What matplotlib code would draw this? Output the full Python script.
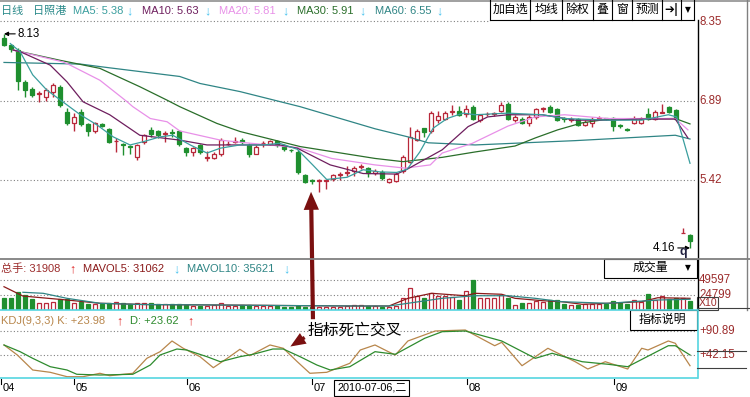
import numpy as np
import matplotlib
matplotlib.use("Agg")
import matplotlib.pyplot as plt
import matplotlib.transforms as mtransforms
from matplotlib.lines import Line2D
from matplotlib.patches import Rectangle, FancyArrowPatch

plt.rcParams['font.family'] = ['Liberation Sans', 'Noto Sans CJK SC', 'DejaVu Sans']

# ----------- Data ------------------------------------
opens = [8.06, 7.92, 7.83, 7.23, 7.11, 7.02, 6.96, 7.06, 7.14, 6.69,
         6.48, 6.69, 6.45, 6.32, 6.45, 6.36, 6.14, 6.08, 6.04, 5.85,
         6.12, 6.35, 6.32, 6.28, 6.31, 6.32, 6.01, 5.93, 6.06, 5.83,
         5.83, 5.91, 6.08, 6.13, 6.16, 6.07, 5.91, 6.10, 6.09, 6.15,
         6.07, 5.98, 5.94, 5.51, 5.42, 5.41, 5.41, 5.43, 5.51, 5.55,
         5.59, 5.66, 5.64, 5.55, 5.57, 5.39, 5.41, 5.58, 5.76, 6.16,
         6.38, 6.32, 6.53, 6.56, 6.68, 6.70, 6.65, 6.78, 6.53, 6.64,
         6.65, 6.70, 6.83, 6.53, 6.56, 6.48, 6.58, 6.74, 6.78, 6.73,
         6.57, 6.54, 6.55, 6.44, 6.48, 6.56, 6.56, 6.57, 6.43, 6.36,
         6.47, 6.48, 6.64, 6.56, 6.67, 6.78, 6.72, 4.43, 4.40]
highs = [8.13, 7.95, 7.87, 7.27, 7.14, 7.07, 7.13, 7.22, 7.18, 6.75,
         6.66, 6.74, 6.48, 6.50, 6.47, 6.38, 6.20, 6.10, 6.07, 6.08,
         6.28, 6.41, 6.35, 6.33, 6.37, 6.35, 6.03, 6.04, 6.08, 5.95,
         5.93, 6.19, 6.14, 6.22, 6.20, 6.10, 6.07, 6.14, 6.16, 6.16,
         6.08, 6.00, 5.97, 5.54, 5.44, 5.43, 5.43, 5.54, 5.56, 5.68,
         5.68, 5.71, 5.66, 5.62, 5.60, 5.45, 5.57, 5.88, 6.40, 6.36,
         6.38, 6.70, 6.70, 6.70, 6.81, 6.79, 6.82, 6.81, 6.64, 6.69,
         6.69, 6.87, 6.86, 6.62, 6.59, 6.62, 6.75, 6.78, 6.81, 6.75,
         6.59, 6.59, 6.57, 6.53, 6.59, 6.61, 6.57, 6.59, 6.45, 6.38,
         6.60, 6.59, 6.75, 6.71, 6.83, 6.80, 6.73, 4.53, 4.41]
lows = [7.90, 7.80, 7.09, 6.95, 6.96, 6.87, 6.88, 6.96, 6.78, 6.44,
        6.32, 6.42, 6.24, 6.30, 6.40, 6.10, 5.93, 5.88, 5.90, 5.80,
        6.09, 6.22, 6.19, 6.12, 6.22, 6.05, 5.86, 5.86, 5.91, 5.78,
        5.81, 5.87, 6.06, 6.10, 6.09, 5.85, 5.90, 6.04, 6.06, 6.04,
        5.95, 5.93, 5.53, 5.36, 5.35, 5.20, 5.25, 5.40, 5.42, 5.49,
        5.50, 5.62, 5.47, 5.52, 5.42, 5.36, 5.38, 5.55, 5.73, 6.14,
        6.22, 6.29, 6.48, 6.53, 6.63, 6.60, 6.58, 6.53, 6.49, 6.61,
        6.60, 6.69, 6.53, 6.49, 6.45, 6.42, 6.56, 6.69, 6.67, 6.52,
        6.49, 6.50, 6.43, 6.42, 6.41, 6.53, 6.53, 6.32, 6.38, 6.32,
        6.45, 6.46, 6.54, 6.54, 6.66, 6.67, 6.54, 4.43, 4.16]
closes = [7.92, 7.85, 7.26, 7.09, 7.00, 7.03, 7.09, 7.18, 6.81, 6.47,
          6.59, 6.45, 6.33, 6.47, 6.43, 6.13, 6.15, 6.07, 6.03, 6.07,
          6.25, 6.27, 6.26, 6.29, 6.30, 6.08, 5.93, 6.01, 5.93, 5.84,
          5.91, 6.16, 6.09, 6.14, 6.13, 5.91, 6.04, 6.11, 6.15, 6.07,
          5.99, 5.97, 5.56, 5.39, 5.41, 5.42, 5.42, 5.51, 5.52, 5.56,
          5.65, 5.67, 5.55, 5.59, 5.45, 5.43, 5.54, 5.84, 6.22, 6.33,
          6.31, 6.66, 6.61, 6.66, 6.69, 6.63, 6.73, 6.56, 6.62, 6.65,
          6.66, 6.81, 6.56, 6.59, 6.48, 6.59, 6.73, 6.75, 6.69, 6.53,
          6.56, 6.55, 6.44, 6.50, 6.56, 6.57, 6.55, 6.42, 6.42, 6.35,
          6.56, 6.56, 6.56, 6.69, 6.68, 6.69, 6.56, 4.44, 4.29]
volumes = [20300, 19300, 30250, 24800, 17700, 11000, 12100, 13700, 17700, 17700,
           11000, 12700, 9900, 9400, 9400, 11000, 13700, 11000, 9900, 11000,
           12100, 12100, 9900, 9400, 9400, 9900, 8300, 6600, 7200, 7200,
           8300, 11000, 6600, 7200, 8300, 8300, 6600, 6600, 6600, 6600,
           5500, 5500, 7200, 5500, 5500, 5500, 5500, 5500, 5500, 6600,
           8300, 8300, 7200, 7200, 5500, 5500, 7200, 19300, 35900, 23100,
           20300, 27600, 23700, 23700, 22000, 16500, 31400, 49600, 20300, 19300,
           19300, 24800, 20300, 8300, 11000, 11000, 14900, 13700, 16500, 16500,
           9400, 8300, 8300, 9400, 9400, 9400, 9400, 14900, 11000, 9400,
           16500, 13700, 25900, 16500, 23700, 18200, 19300, 19300, 14900]

# moving averages, sampled along the drawn lines (candle index, value)
ma5_idx = [0.9, 2.3, 4.1, 6.1, 8.4, 10.9, 13.3, 15.6, 18, 19.9, 22.3, 24.1, 26.6, 29,
           30.9, 33.7, 37, 39.4, 41.9, 44.1, 46.1, 49, 51.3, 53.7, 56.1, 57.6, 59.4,
           61.3, 63.3, 65.6, 67.3, 72, 76.9, 80.1, 86.3, 91.1, 94.9, 96.1, 98]
ma5_val = [7.95, 7.80, 7.37, 7.09, 6.87, 6.63, 6.44, 6.22, 6.07, 6.13, 6.22, 6.25, 6.07, 5.92,
           6.01, 6.07, 6.07, 6.10, 5.99, 5.70, 5.43, 5.47, 5.61, 5.57, 5.56, 5.62, 5.94,
           6.38, 6.56, 6.66, 6.63, 6.66, 6.63, 6.56, 6.53, 6.53, 6.63, 6.59, 5.73]
ma10_idx = [1.3, 2.3, 6.6, 9, 11.3, 15.1, 19.4, 25.1, 29, 33.7, 39.4, 41.9, 46.6, 51.3,
            56.1, 57.6, 62.6, 66.3, 69.1, 72, 76.9, 81.6, 86.3, 91.1, 95.9, 97.7]
ma10_val = [7.83, 7.80, 7.55, 7.24, 6.87, 6.63, 6.25, 6.16, 6.07, 6.07, 6.07, 6.01, 5.70, 5.54,
            5.53, 5.62, 5.98, 6.41, 6.59, 6.63, 6.63, 6.53, 6.53, 6.55, 6.55, 6.20]
ma20_idx = [1.3, 8.4, 9, 13.7, 17.6, 18.4, 20.9, 23.3, 25.1, 30.9, 33.7, 42, 46.8, 53,
            57.3, 60.9, 62.6, 66.9, 72, 75.9, 80.1, 86.3, 95.9, 97.7]
ma20_val = [7.83, 7.61, 7.58, 7.27, 6.87, 6.78, 6.56, 6.50, 6.33, 6.16, 6.12, 6.02, 5.82, 5.70,
            5.64, 5.70, 5.92, 6.10, 6.42, 6.59, 6.63, 6.56, 6.56, 6.35]
ma30_idx = [1.3, 8, 13.7, 19.4, 23.3, 25.1, 30.4, 33.7, 42.3, 53, 57, 62.6, 67.3, 73,
            75.9, 79.1, 82.6, 86.3, 95.9, 98]
ma30_val = [7.83, 7.64, 7.49, 7.15, 6.90, 6.78, 6.47, 6.32, 6.04, 5.82, 5.76, 5.84, 5.94, 6.05,
            6.20, 6.35, 6.48, 6.55, 6.56, 6.46]
ma60_idx = [0, 10.9, 15.1, 25.1, 28, 33.7, 42.3, 53, 57.7, 60.6, 67.3, 81.6, 95.9, 98]
ma60_val = [7.60, 7.57, 7.50, 7.34, 7.21, 7.06, 6.78, 6.37, 6.22, 6.11, 6.07, 6.15, 6.25, 6.18]

# volume moving averages
mavol5_idx = [0, 2.7, 9, 13.7, 20, 30, 40, 50, 55, 57.7, 61.1, 65.9, 67.3, 71.1, 73,
              76.9, 79.7, 82.6, 86.3, 91.1, 93.4, 98]
mavol5_val = [38500, 23100, 16500, 11100, 9100, 8300, 7400, 6600, 6600, 19300, 27600, 23600,
              27600, 26000, 19300, 15400, 13700, 9400, 11100, 13700, 20300, 19300]
mavol10_idx = [2.7, 5.6, 9, 13.7, 20, 30, 40, 50, 55, 57.7, 62.6, 67.3, 72, 75.9, 79.7,
               86.3, 93.4, 98]
mavol10_val = [29300, 27600, 19300, 11100, 9000, 8300, 7400, 6600, 6600, 11100, 19300, 23600,
               23600, 19300, 13700, 11100, 16500, 17700]

# KDJ
k_idx = [0, 1.9, 4.1, 6.6, 9, 11.3, 13.7, 15.1, 18.4, 20.4, 22.3, 24, 25.6, 28, 29.9, 31.9,
         33.7, 35.1, 38, 39.9, 41.9, 43.7, 46.1, 49.4, 50.9, 53, 54.9, 55.9, 57.7, 61.6,
         65.9, 70.1, 71.1, 74, 77.7, 81.6, 83.4, 85.9, 89.1, 91.1, 92, 94.9, 95.9, 98]
k_val = [62.5, 42.2, 11.7, 7.0, -1.9, -1.9, 5.0, 0.1, 5.0, 35.4, 48.9, 70.6, 55.8, 38.7, 16.4, 35.4,
         53.7, 40.7, 62.5, 55.8, 28.5, 5.0, 7.0, 25.3, 52.3, 62.5, 48.9, 42.2, 70.6, 90.9,
         92.9, 61.0, 67.9, 20.4, 55.8, 28.5, 13.7, 28.5, 13.7, 55.8, 52.3, 70.6, 65.9, 20.4]
d_idx = [0, 2.3, 4.1, 6.6, 9, 10.4, 13.7, 18.4, 20.9, 22.3, 24.7, 26.1, 29, 30.9, 33.7, 35.6,
         38.4, 39.9, 42.3, 44.7, 46.6, 49.4, 53, 55.9, 60.1, 62.6, 65.9, 71.1, 75.9, 78.3,
         82.6, 86.3, 89.1, 94.9, 95.9, 98]
d_val = [62.5, 48.9, 35.4, 18.4, 11.7, 3.0, 1.5, 3.0, 21.8, 42.2, 54.3, 52.3, 38.7, 28.5, 38.7, 43.6,
         54.3, 54.3, 38.7, 21.8, 11.7, 18.4, 48.9, 43.6, 76.1, 89.5, 90.9, 70.6, 35.4, 45.6,
         28.5, 23.3, 18.4, 61.0, 61.0, 42.2]

price_ticks = [8.35, 6.89, 5.42]
vol_ticks = [49597, 24799]
kdj_ticks = [90.89, 42.15]
month_labels = ['04', '05', '06', '07', '08', '09']
month_idx = [-0.4, 10, 26.1, 44, 66.1, 87.1]
# ------------------------------------------------------

# colours
RED = '#b8283a'
GREEN = '#1f8f2f'
LBL = '#9c2c2c'
C_MA5, C_MA10, C_MA20, C_MA30, C_MA60 = '#3a9e9e', '#6e1e5e', '#e890e8', '#2a6e2a', '#2f8585'
C_K, C_D = '#b8864b', '#2e8b2e'
CYAN = '#55d5e0'
ARROW = '#7a1010'
DOWN_C, UP_C = '#4cc4ee', '#e02828'

W, H = 750, 397
RIGHT = 697


def rect(x0, y0, x1, y1):
    return [x0 / W, 1 - y1 / H, (x1 - x0) / W, (y1 - y0) / H]


def pline(fig, x0, y0, x1, y1, **kw):
    fig.add_artist(Line2D([x0 / W, x1 / W], [1 - y0 / H, 1 - y1 / H],
                          transform=fig.transFigure, **kw))


def ptext(fig, x, y, s, **kw):
    kw.setdefault('va', 'center')
    return fig.text(x / W, 1 - y / H, s, **kw)


fig = plt.figure(figsize=(W / 100, H / 100), dpi=100)
fig.patch.set_facecolor('white')

n = len(closes)
idx = np.arange(n)
xlim = (-4 / 7, (RIGHT - 4) / 7)

# pixel scales taken from the axis labels
p_scale = (180 - 22) / (price_ticks[0] - price_ticks[2])
p_low = price_ticks[2] - (258 - 180) / p_scale
v_scale = (310 - 280) / vol_ticks[0]
v_top = (310 - 258) / v_scale
k_scale = (355 - 331) / (kdj_ticks[0] - kdj_ticks[1])
k_top = kdj_ticks[0] + (331 - 310) / k_scale
k_bot = kdj_ticks[1] - (378 - 355) / k_scale

ax_p = fig.add_axes(rect(0, 22, RIGHT, 258))
ax_v = fig.add_axes(rect(0, 258, RIGHT, 310))
ax_k = fig.add_axes(rect(0, 310, RIGHT, 378))
for ax in (ax_p, ax_v, ax_k):
    ax.axis('off')
    ax.set_xlim(*xlim)
ax_p.set_ylim(p_low, price_ticks[0])
ax_v.set_ylim(0, v_top)
ax_k.set_ylim(k_bot, k_top)

dots = dict(color='#808080', lw=0.8, ls=(0, (1, 2)))

# ---- price panel ----
o = np.array(opens); c = np.array(closes)
up = c >= o
face = np.where(up, 'white', GREEN)
edge = np.where(up, RED, GREEN)
ax_p.vlines(idx, lows, highs, colors=edge, lw=1.0, zorder=2)
body = np.maximum(np.abs(c - o), 0.012)
ax_p.bar(idx, body, bottom=np.minimum(o, c), width=0.7, color=face,
         edgecolor=edge, linewidth=0.9, zorder=3)
for v in price_ticks[1:]:
    ax_p.axhline(v, **dots, zorder=1)
for xs, ys, col in [(ma60_idx, ma60_val, C_MA60), (ma30_idx, ma30_val, C_MA30),
                    (ma20_idx, ma20_val, C_MA20), (ma10_idx, ma10_val, C_MA10),
                    (ma5_idx, ma5_val, C_MA5)]:
    ax_p.plot(xs, ys, color=col, lw=0.9, zorder=4)

ax_p.annotate('8.13', xy=(0, highs[0]), xytext=(14, 0), textcoords='offset pixels',
              ha='left', va='center', fontsize=8.3,
              arrowprops=dict(arrowstyle='-|>', color='black', lw=0.8,
                              shrinkA=0, shrinkB=0, mutation_scale=6))
ax_p.annotate('4.16', xy=(n - 1, min(lows)), xytext=(-15, 0), textcoords='offset pixels',
              ha='right', va='center', fontsize=8.3,
              arrowprops=dict(arrowstyle='-|>', color='black', lw=0.8,
                              shrinkA=0, shrinkB=0, mutation_scale=6))
ptext(fig, 683, 252, 'q', fontsize=9, fontweight='bold', ha='center', color='#202040')

tr_p = mtransforms.blended_transform_factory(ax_p.transAxes, ax_p.transData)
for v in price_ticks:
    ax_p.text(1.003, v, f'{v:.2f}', transform=tr_p, ha='left', va='center',
              fontsize=8.3, color=LBL, clip_on=False)

# ---- volume panel ----
vface = np.where(up, 'white', GREEN)
ax_v.bar(idx, volumes, width=0.7, color=vface, edgecolor=edge, linewidth=0.9, zorder=3)
ax_v.plot(mavol5_idx, mavol5_val, color='#8b1a1a', lw=0.9, zorder=4)
ax_v.plot(mavol10_idx, mavol10_val, color=C_MA60, lw=0.9, zorder=4)
for v in vol_ticks:
    ax_v.axhline(v, **dots, zorder=1)
tr_v = mtransforms.blended_transform_factory(ax_v.transAxes, ax_v.transData)
for v in vol_ticks:
    ax_v.text(1.003, v, f'{v}', transform=tr_v, ha='left', va='center',
              fontsize=8.3, color=LBL, clip_on=False)

# ---- KDJ panel ----
ax_k.plot(k_idx, k_val, color=C_K, lw=0.9, zorder=3)
ax_k.plot(d_idx, d_val, color=C_D, lw=0.9, zorder=3)
for v in kdj_ticks:
    ax_k.axhline(v, **dots, zorder=1)
tr_k = mtransforms.blended_transform_factory(ax_k.transAxes, ax_k.transData)
for v in kdj_ticks:
    ax_k.text(1.003, v, f'+{v:.2f}', transform=tr_k, ha='left', va='center',
              fontsize=8.3, color=LBL, clip_on=False)

# month ticks under the KDJ panel
tr_m = mtransforms.blended_transform_factory(ax_k.transData, fig.transFigure)
for m, xi in zip(month_labels, month_idx):
    ax_k.add_artist(Line2D([xi, xi], [1 - 379 / H, 1 - 384 / H], transform=tr_m,
                           color='black', lw=0.8, clip_on=False))
    ax_k.text(xi + 0.25, 1 - 388 / H, m, transform=tr_m, ha='left', va='center',
              fontsize=8, clip_on=False)

# ---- frame lines ----
pline(fig, 0, 0.5, W, 0.5, color='#909090', lw=1.2)
pline(fig, 0, 21, 490, 21, **dots)
pline(fig, RIGHT + 0.5, 20, RIGHT + 0.5, 310, color='black', lw=1.0)
pline(fig, 746.5, 0, 746.5, 310, color='#808080', lw=1.0)
pline(fig, 0, 258.5, W, 258.5, color='#808080', lw=1.3)
pline(fig, 0, 310, RIGHT, 310, color=CYAN, lw=1.2)
pline(fig, 0, 377.5, RIGHT, 377.5, color=CYAN, lw=1.2)
pline(fig, RIGHT + 0.5, 310, RIGHT + 0.5, 378, color=CYAN, lw=1.2)
pline(fig, RIGHT, 308, W, 308, color='#404040', lw=0.8)
pline(fig, RIGHT, 351, 746, 351, color='#404040', lw=0.8)
pline(fig, RIGHT, 368, 746, 368, color='#404040', lw=0.8)

# header bar
header = [(1, '日线', '#2a8a8a'), (33, '日照港', '#2a8a8a'),
          (73, 'MA5: 5.38', C_MA5), (142, 'MA10: 5.63', C_MA10),
          (219, 'MA20: 5.81', C_MA20), (297, 'MA30: 5.91', C_MA30),
          (375, 'MA60: 6.55', C_MA60)]
for x, s, col in header:
    ptext(fig, x, 11, s, color=col, fontsize=8.0)
for x in (129, 207, 285, 362, 439):
    ptext(fig, x, 11, '↓', color=DOWN_C, fontsize=9, fontweight='bold', ha='center')

# toolbar buttons
edges = [490, 530, 562, 593, 612, 632, 662, 681, 694]
for x in edges:
    pline(fig, x, 0, x, 20, color='black', lw=0.8)
pline(fig, 490, 20, 694, 20, color='black', lw=0.8)
for s, xc in [('加自选', 510), ('均线', 546), ('除权', 577), ('叠', 602),
              ('窗', 622), ('预测', 647)]:
    ptext(fig, xc, 10, s, ha='center', fontsize=8.6)
ptext(fig, 671, 10, '➔|', ha='center', fontsize=8.5, fontweight='bold', family='DejaVu Sans')
ptext(fig, 688, 10, '▼', ha='center', fontsize=5.5, family='DejaVu Sans')

# volume header
ptext(fig, 1, 269, '总手: 31908', color='#9c2c2c', fontsize=8.0)
ptext(fig, 72, 269, '↑', color=UP_C, fontsize=9, fontweight='bold', ha='center')
ptext(fig, 83, 269, 'MAVOL5: 31062', color='#8b1a1a', fontsize=8.0)
ptext(fig, 176, 269, '↓', color=DOWN_C, fontsize=9, fontweight='bold', ha='center')
ptext(fig, 187, 269, 'MAVOL10: 35621', color=C_MA60, fontsize=8.0)
ptext(fig, 286, 269, '↓', color=DOWN_C, fontsize=9, fontweight='bold', ha='center')

fig.add_artist(Rectangle((604 / W, 1 - 278 / H), 93 / W, 19 / H, transform=fig.transFigure,
                         fc='white', ec='black', lw=0.8))
ptext(fig, 650, 268, '成交量', ha='center', fontsize=8.6)
ptext(fig, 688, 268, '▼', ha='center', fontsize=5.5, family='DejaVu Sans')

fig.add_artist(Rectangle((RIGHT / W, 1 - 310 / H), 21 / W, 13 / H, transform=fig.transFigure,
                         fc='white', ec='#404040', lw=0.8))
ptext(fig, 699, 303.5, 'X10', color=LBL, fontsize=7.6)

# KDJ header
ptext(fig, 1, 321, 'KDJ(9,3,3) K: +23.98', color=C_K, fontsize=8.0)
ptext(fig, 119, 321, '↑', color=UP_C, fontsize=9, fontweight='bold', ha='center')
ptext(fig, 130, 321, 'D: +23.62', color=C_D, fontsize=8.0)
ptext(fig, 190, 321, '↑', color=UP_C, fontsize=9, fontweight='bold', ha='center')

fig.add_artist(Rectangle((630 / W, 1 - 330 / H), 67 / W, 20 / H, transform=fig.transFigure,
                         fc='white', ec='black', lw=0.8))
ptext(fig, 662, 320, '指标说明', ha='center', fontsize=8.6)

# crosshair date box
ptext(fig, 337, 388, '2010-07-06,二', fontsize=7.8,
      bbox=dict(boxstyle='square,pad=0.25', fc='white', ec='black', lw=0.8))

# annotation: death cross
ptext(fig, 308, 330, '指标死亡交叉', fontsize=11.3, family=['Noto Sans CJK SC', 'DejaVu Sans'])
fig.add_artist(FancyArrowPatch((313 / W, 1 - 322 / H), (311 / W, 1 - 189 / H),
                               transform=fig.transFigure, color=ARROW,
                               arrowstyle='simple,head_length=1.3,head_width=1.1,tail_width=0.3',
                               mutation_scale=10, lw=0))
fig.add_artist(FancyArrowPatch((307 / W, 1 - 336 / H), (288 / W, 1 - 348 / H),
                               transform=fig.transFigure, color=ARROW,
                               arrowstyle='simple,head_length=1.1,head_width=0.9,tail_width=0.25',
                               mutation_scale=10, lw=0))

fig.savefig('out.png', dpi=100)
